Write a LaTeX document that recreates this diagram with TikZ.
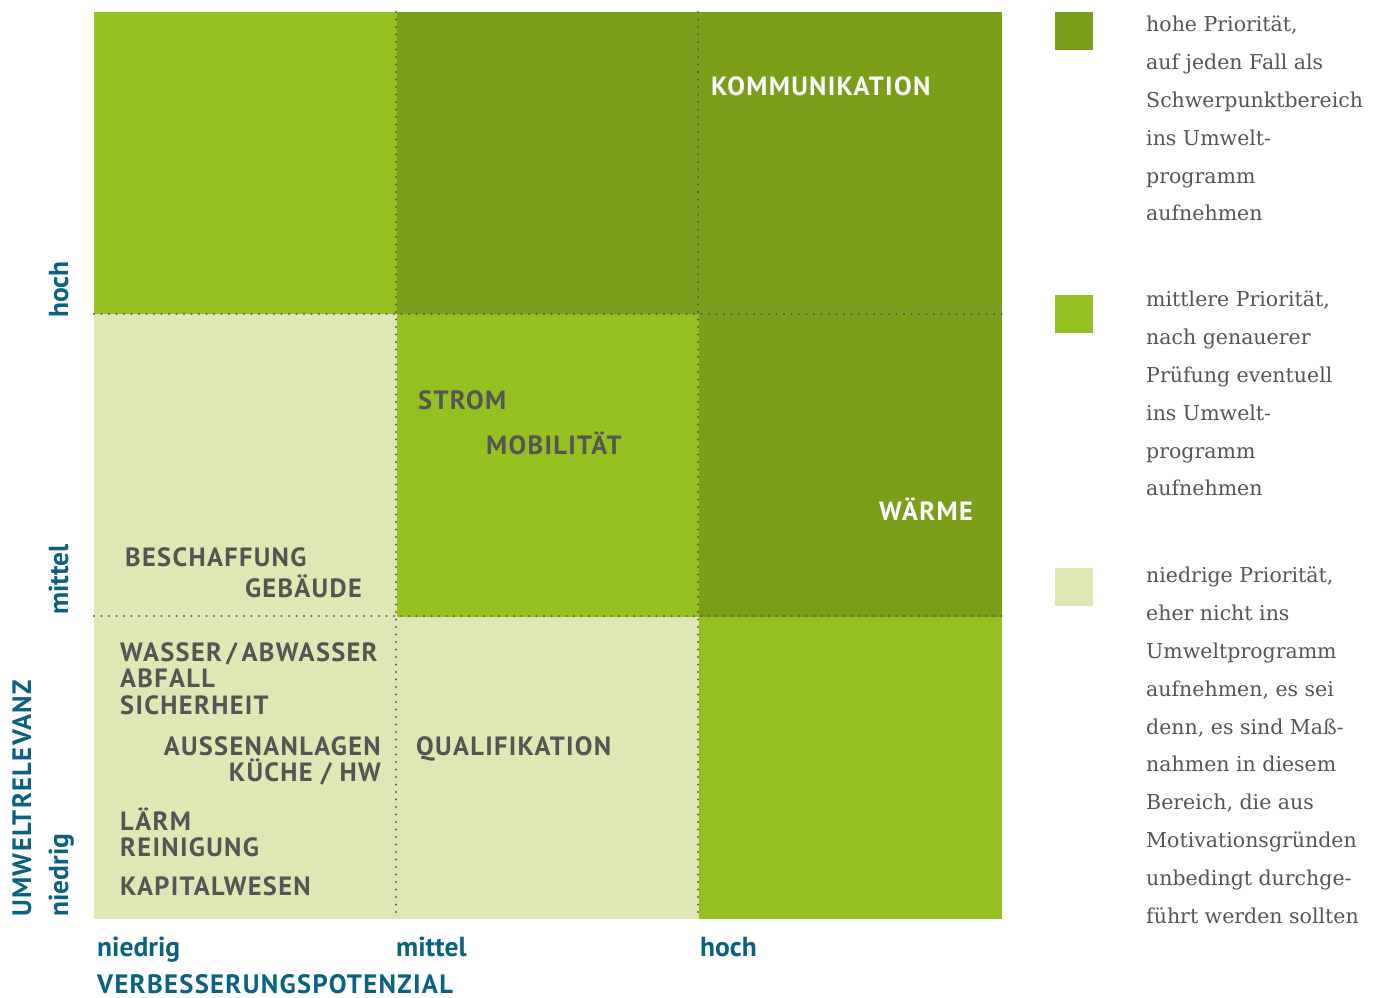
\documentclass[tikz,border=0pt]{standalone}
\usepackage{fontspec}
\setmainfont{DejaVu Serif}
\newfontfamily\topicfont[LetterSpace=5]{PT Sans}
\newfontfamily\axisfont{PT Sans}
\usetikzlibrary{positioning}
\definecolor{darkgreen}{HTML}{7A9E1A}
\definecolor{midgreen}{HTML}{94C11F}
\definecolor{palegreen}{HTML}{DFE8B4}
\definecolor{textgrey}{HTML}{555555}
\definecolor{dotgrey}{HTML}{5C5C5C}
\definecolor{axisblue}{HTML}{0B6181}

\begin{document}
\begin{tikzpicture}[x=1pt, y=-1pt,
  topic/.style={font=\topicfont\bfseries\fontsize{26.4}{26.4}\selectfont, text=textgrey, inner sep=0pt, anchor=base west},
  axislabel/.style={font=\axisfont\bfseries\fontsize{27.5}{27.5}\selectfont, text=axisblue, inner sep=0pt, anchor=base west},
  axistitle/.style={axislabel, font=\topicfont\bfseries\fontsize{26.6}{26.6}\selectfont},
  gridline/.style={dotgrey, line width=2.3pt, line cap=round, dash pattern=on 0pt off 7.5pt},
  swatch/.style={minimum size=38pt, inner sep=0pt, anchor=north west},
  legendtext/.style={font=\fontsize{20.5}{37.8}\selectfont, text=textgrey, align=left, inner sep=0pt, anchor=north west}]
  \useasboundingbox (0,0) rectangle (1386,997);
  % matrix cells
  \foreach \c/\r/\shade in {0/0/midgreen, 1/0/darkgreen, 2/0/darkgreen,
                            0/1/palegreen, 1/1/midgreen, 2/1/darkgreen,
                            0/2/palegreen, 1/2/palegreen, 2/2/midgreen}
  {
    \fill[\shade] (94+302.7*\c, 12+302.3*\r) rectangle ++(302.7, 302.3);
  }
  \draw[gridline] (94,314) -- (1002,314);
  \draw[gridline] (94,616) -- (1002,616);
  \draw[gridline] (396,12) -- (396,919);
  \draw[gridline] (698,12) -- (698,919);

  % topics
  \node[topic, text=white] (kommunikation) at (711,95) {KOMMUNIKATION};
  \node[topic] (strom) at (418,409) {STROM};
  \node[topic] (mobilitaet) at (486,454) {MOBILITÄT};
  \node[topic, text=white, anchor=base east] (waerme) at (973,520) {WÄRME};
  \node[topic] (beschaffung) at (125,566) {BESCHAFFUNG};
  \node[topic, anchor=base east] (gebaeude) at (362,597) {GEBÄUDE};
  \node[topic] (wasser) at (120,661) {WASSER\,/\,ABWASSER};
  \node[topic] (abfall) at (120,687) {ABFALL};
  \node[topic] (sicherheit) at (120,714) {SICHERHEIT};
  \node[topic, anchor=base east] (aussen) at (381,755) {AUSSENANLAGEN};
  \node[topic, anchor=base east] (kueche) at (381,781) {KÜCHE / HW};
  \node[topic] (qualifikation) at (416,755) {QUALIFIKATION};
  \node[topic] (laerm) at (120,830) {LÄRM};
  \node[topic] (reinigung) at (120,856) {REINIGUNG};
  \node[topic] (kapital) at (120,895) {KAPITALWESEN};

  % axes
  \node[axislabel] (xlow) at (97,956) {niedrig};
  \node[axislabel] (xmid) at (396,956) {mittel};
  \node[axislabel] (xhigh) at (700,956) {hoch};
  \node[axistitle] (xtitle) at (97,993) {VERBESSERUNGSPOTENZIAL};
  \node[axislabel, rotate=90] (ylow) at (68,917) {niedrig};
  \node[axislabel, rotate=90] (ymid) at (68,615) {mittel};
  \node[axislabel, rotate=90] (yhigh) at (68,318) {hoch};
  \node[axistitle, rotate=90] (ytitle) at (31,917) {UMWELTRELEVANZ};

  % legend
  \node[swatch, fill=darkgreen] (highbox) at (1055,12) {};
  \node[swatch, fill=midgreen] (midbox) at (1055,295) {};
  \node[swatch, fill=palegreen] (lowbox) at (1055,568) {};
  \node[legendtext] (hightext) at (1146,16) {hohe Priorität,\\auf jeden Fall als\\Schwerpunktbereich\\ins Umwelt-\\programm\\aufnehmen};
  \node[legendtext] (midtext) at (1146,291) {mittlere Priorität,\\nach genauerer\\Prüfung eventuell\\ins Umwelt-\\programm\\aufnehmen};
  \node[legendtext] (lowtext) at (1146,567) {niedrige Priorität,\\eher nicht ins\\Umweltprogramm\\aufnehmen, es sei\\denn, es sind Maß-\\nahmen in diesem\\Bereich, die aus\\Motivationsgründen\\unbedingt durchge-\\führt werden sollten};
\end{tikzpicture}
\end{document}
